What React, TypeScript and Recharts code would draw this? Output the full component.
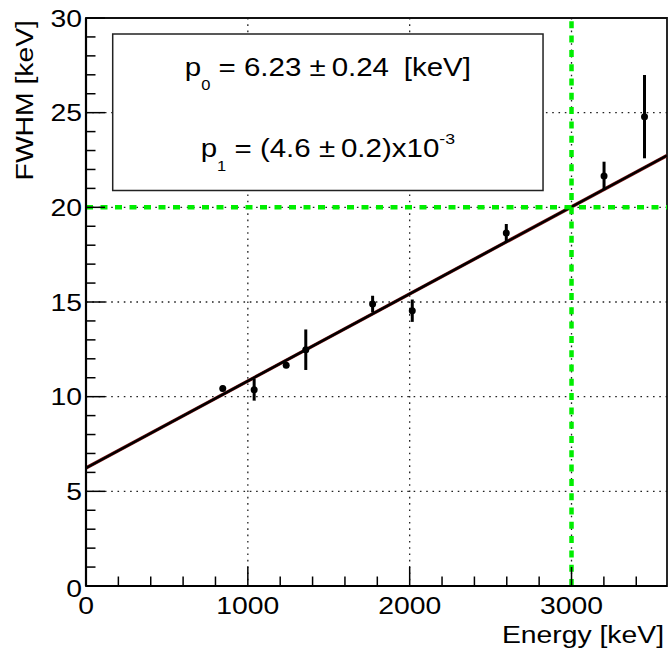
import {
  ComposedChart,
  XAxis,
  YAxis,
  CartesianGrid,
  Scatter,
  ErrorBar,
  Line,
  ReferenceLine,
  ReferenceArea,
} from 'recharts';

// measured peaks
const energy = [845, 1039, 1237, 1358, 1771, 2016, 2597, 3201, 3451];
const fwhm = [10.43, 10.37, 11.66, 12.48, 14.89, 14.54, 18.64, 21.66, 24.79];
const fwhmErr = [0.15, 0.58, 0.15, 1.07, 0.44, 0.59, 0.48, 0.75, 2.2];

// fitted line, read at the frame edges
const fitEnergy = [0, 3590];
const fitFwhm = [6.23, 22.74];

const xMajorTicks = [0, 1000, 2000, 3000];
const xMinorTicks = [200, 400, 600, 800, 1200, 1400, 1600, 1800, 2200, 2400, 2600, 2800, 3200, 3400];
const yMajorTicks = [0, 5, 10, 15, 20, 25, 30];
const yMinorTicks = [1, 2, 3, 4, 6, 7, 8, 9, 11, 12, 13, 14, 16, 17, 18, 19, 21, 22, 23, 24, 26, 27, 28, 29];
const gridX = [1000, 2000, 3000];
const gridY = [5, 10, 15, 20, 25];

const markEnergy = 3000;
const markFwhm = 20;

const X_MAX = 3590;
const Y_MAX = 30;

const points = energy.map((e, i) => ({ x: e, y: fwhm[i], err: fwhmErr[i] }));
const fit = fitEnergy.map((e, i) => ({ x: e, y: fitFwhm[i] }));

const FONT = '"Liberation Sans", Arial, Helvetica, sans-serif';

function Wide({ x, y, anchor = 'middle', rotate = 0, size = 24, sx = 1.18, children }: any) {
  return (
    <text
      transform={`translate(${x},${y}) rotate(${rotate}) scale(${sx},1)`}
      textAnchor={anchor}
      fontFamily={FONT}
      fontSize={size}
      fill="#000"
    >
      {children}
    </text>
  );
}

function XTick({ x, y, payload }: any) {
  const major = xMajorTicks.includes(payload.value);
  return (
    <g>
      <line x1={x} x2={x} y1={y} y2={y - (major ? 19 : 9.5)} stroke="#000" strokeWidth={1.5} />
      {major && <Wide x={x} y={y + 28}>{payload.value}</Wide>}
    </g>
  );
}

function YTick({ x, y, payload }: any) {
  const major = yMajorTicks.includes(payload.value);
  // ROOT drops the zero label a little below its tick
  const drop = payload.value === 0 ? 2.5 : 0;
  return (
    <g>
      <line x1={x} x2={x + (major ? 19 : 9.5)} y1={y} y2={y} stroke="#000" strokeWidth={1.5} />
      {major && <Wide x={x - 4} y={y + 8.5 + drop} anchor="end">{payload.value}</Wide>}
    </g>
  );
}

function FitBox({ viewBox }: any) {
  const cx = viewBox.x + viewBox.width / 2;
  return (
    <g>
      <Wide x={cx} y={viewBox.y + 41.5} size={25}>
        <tspan>p</tspan>
        <tspan dy={14} fontSize={14}>0</tspan>
        <tspan dy={-14}> = 6.23 ±</tspan>
        <tspan dx={5}>0.24</tspan>
        <tspan dx={12.5}>[keV]</tspan>
      </Wide>
      <Wide x={cx} y={viewBox.y + 123} size={25}>
        <tspan>p</tspan>
        <tspan dy={14} fontSize={14}>1</tspan>
        <tspan dy={-14}> = (4.6 ±</tspan>
        <tspan dx={5}>0.2)x10</tspan>
        <tspan dy={-13} fontSize={15}>-3</tspan>
      </Wide>
    </g>
  );
}

const Dot = (props: any) => <circle cx={props.cx} cy={props.cy} r={3.5} fill="#000" />;

export default function App() {
  return (
    <div style={{ width: 671, height: 654, background: '#fff' }}>
      <style>{'body{margin:0}'}</style>
      <ComposedChart width={671} height={654} margin={{ top: 18, right: 4, bottom: 0, left: 0 }}>
        <CartesianGrid
          horizontalValues={gridY}
          verticalValues={gridX}
          stroke="#222"
          strokeWidth={1.3}
          strokeDasharray="1.6 4.7"
        />
        <XAxis
          type="number"
          dataKey="x"
          domain={[0, X_MAX]}
          allowDataOverflow
          ticks={[...xMajorTicks, ...xMinorTicks]}
          interval={0}
          tickLine={false}
          tickSize={0}
          tickMargin={0}
          axisLine={{ stroke: '#000', strokeWidth: 2.2 }}
          tick={<XTick />}
          height={68}
          label={{
            content: (p: any) => (
              <Wide x={p.viewBox.x + p.viewBox.width - 3} y={p.viewBox.y + 57} anchor="end">
                Energy [keV]
              </Wide>
            ),
          }}
        />
        <YAxis
          type="number"
          dataKey="y"
          domain={[0, Y_MAX]}
          allowDataOverflow
          ticks={[...yMajorTicks, ...yMinorTicks]}
          interval={0}
          tickLine={false}
          tickSize={0}
          tickMargin={0}
          axisLine={{ stroke: '#000', strokeWidth: 2.2 }}
          tick={<YTick />}
          width={86}
          label={{
            content: (p: any) => (
              <Wide x={33} y={p.viewBox.y + 2} rotate={-90} anchor="end">
                FWHM [keV]
              </Wide>
            ),
          }}
        />
        <ReferenceArea
          x1={165}
          x2={2824}
          y1={20.89}
          y2={29.15}
          fill="#fff"
          fillOpacity={1}
          stroke="#222"
          strokeWidth={1.5}
          label={{ content: (p: any) => <FitBox viewBox={p.viewBox} /> }}
        />
        <Line
          data={fit}
          dataKey="y"
          stroke="#7a1414"
          strokeWidth={3.4}
          dot={false}
          activeDot={false}
          isAnimationActive={false}
        />
        <Line
          data={fit}
          dataKey="y"
          stroke="#000"
          strokeWidth={2.4}
          dot={false}
          activeDot={false}
          isAnimationActive={false}
        />
        <Scatter data={points} dataKey="y" shape={<Dot />} isAnimationActive={false}>
          <ErrorBar dataKey="err" direction="y" width={0} stroke="#000" strokeWidth={3} isAnimationActive={false} />
        </Scatter>
        <ReferenceLine y={markFwhm} stroke="#00ee00" strokeWidth={4.5} strokeDasharray="7 7.5" />
        <ReferenceLine x={markEnergy} stroke="#00ee00" strokeWidth={4.5} strokeDasharray="7 7.3" />
        <ReferenceArea x1={0} x2={X_MAX} y1={0} y2={Y_MAX} fill="none" stroke="#111" strokeWidth={1.8} />
      </ComposedChart>
    </div>
  );
}
